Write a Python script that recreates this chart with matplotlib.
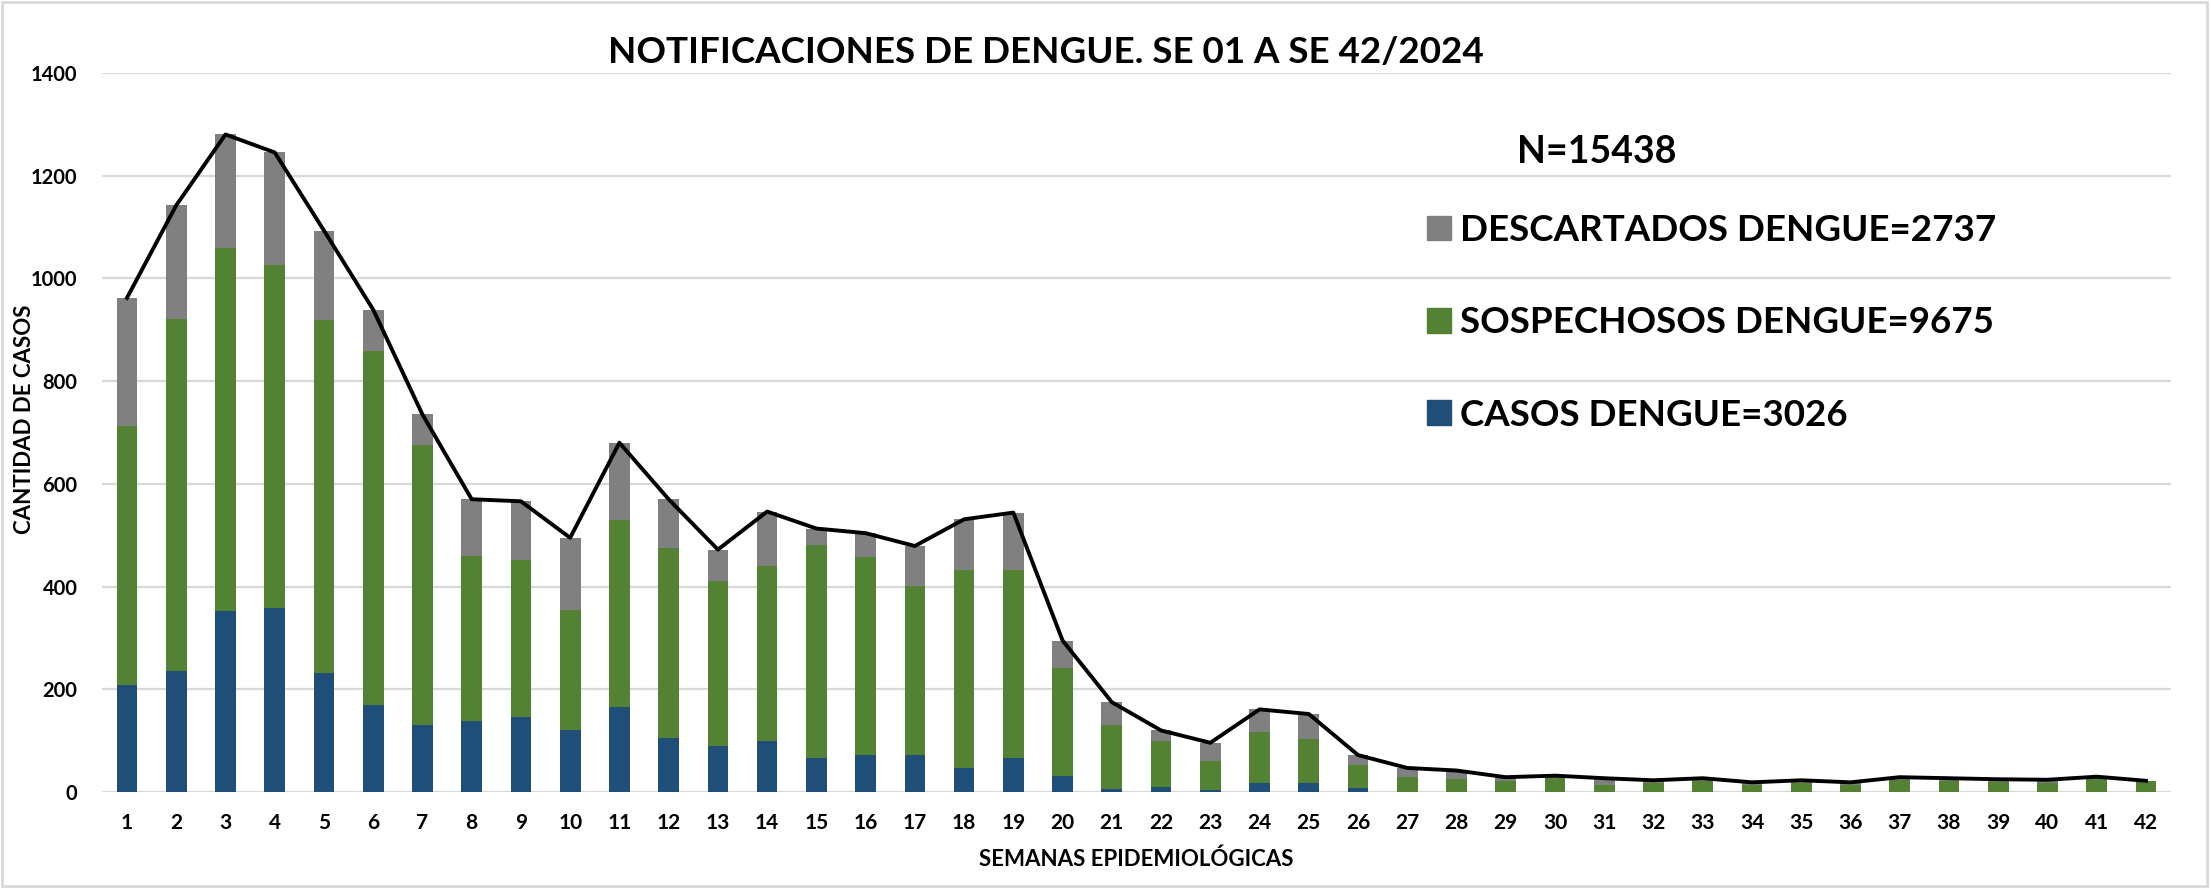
import numpy as np
import matplotlib
matplotlib.use("Agg")
import matplotlib.pyplot as plt
from matplotlib.patches import Patch, Rectangle

# datos por semana epidemiologica
semanas = [str(s) for s in range(1, 43)]
casos = [209, 236, 353, 359, 232, 170, 131, 138, 147, 120, 166, 106, 90, 100,
         67, 73, 72, 47, 66, 32, 6, 9, 4, 18, 18, 8, 0, 0,
         0, 0, 0, 0, 0, 0, 0, 0, 0, 0, 0, 0, 0, 0]
sospechosos = [503, 684, 706, 667, 687, 688, 544, 321, 305, 234, 363, 369, 321, 341,
               413, 384, 329, 385, 367, 210, 125, 91, 57, 98, 86, 45, 29, 25,
               21, 28, 14, 17, 21, 14, 18, 14, 23, 22, 20, 18, 26, 21]
descartados = [250, 222, 221, 219, 174, 81, 60, 111, 114, 141, 151, 95, 61, 105,
               33, 47, 78, 99, 111, 53, 44, 20, 35, 45, 48, 19, 18, 17,
               8, 4, 13, 6, 6, 5, 5, 5, 6, 5, 5, 6, 4, 1]
etiquetas = ["DESCARTADOS DENGUE=2737", "SOSPECHOSOS DENGUE=9675", "CASOS DENGUE=3026"]
total_n = "N=15438"

AZUL = "#1f4e79"
VERDE = "#548235"
GRIS = "#808080"
GRID = "#d9d9d9"

plt.rcParams['font.family'] = ['Lato', 'DejaVu Sans']

x = np.arange(1, len(semanas) + 1)
casos = np.array(casos)
sospechosos = np.array(sospechosos)
descartados = np.array(descartados)
totales = casos + sospechosos + descartados

fig = plt.figure(figsize=(22.11, 8.88), dpi=100)
ax = fig.add_axes([0.0463, 0.108, 0.9354, 0.810])

ancho = 0.42
ax.bar(x, casos, ancho, color=AZUL, zorder=2)
ax.bar(x, sospechosos, ancho, bottom=casos, color=VERDE, zorder=2)
ax.bar(x, descartados, ancho, bottom=casos + sospechosos, color=GRIS, zorder=2)
ax.plot(x, totales, color="black", lw=2.8, zorder=3)

ax.set_xlim(0.5, 42.5)
ax.set_ylim(0, 1400)
ax.set_yticks(np.arange(0, 1401, 200))
ax.set_xticks(x)
ax.set_xticklabels(semanas)
ax.grid(axis="y", color=GRID, lw=1.6, zorder=0)
ax.set_axisbelow(True)
for s in ax.spines.values():
    s.set_visible(False)
ax.tick_params(axis="y", length=0, labelsize=14.5, pad=18)
ax.tick_params(axis="x", length=0, labelsize=15, pad=15)
for t in ax.get_xticklabels() + ax.get_yticklabels():
    t.set_fontweight("bold")

fig.text(0.473, 0.941, "NOTIFICACIONES DE DENGUE. SE 01 A SE 42/2024",
         ha="center", va="center", fontsize=26.5, fontweight="bold")
fig.text(0.514, 0.032, "SEMANAS EPIDEMIOLÓGICAS", ha="center", va="center",
         fontsize=16, fontweight="bold")
fig.text(0.011, 0.528, "CANTIDAD DE CASOS", ha="center", va="center",
         rotation=90, fontsize=16, fontweight="bold")
fig.text(0.722, 0.829, total_n, ha="center", va="center",
         fontsize=27, fontweight="bold")

handles = [Patch(color=GRIS), Patch(color=VERDE), Patch(color=AZUL)]
fig.legend(handles, etiquetas, loc="upper left", bbox_to_anchor=(0.6455, 0.759),
           frameon=False, handlelength=0.66, handleheight=0.66, handletextpad=0.22,
           labelspacing=1.61, borderpad=0, borderaxespad=0,
           prop={"weight": "bold", "size": 26.5})

# marco exterior gris claro
fig.patches.append(Rectangle((0.001, 0.002), 0.997, 0.996, transform=fig.transFigure,
                             fill=False, edgecolor=GRID, lw=2))

fig.savefig("out.png", dpi=100)
